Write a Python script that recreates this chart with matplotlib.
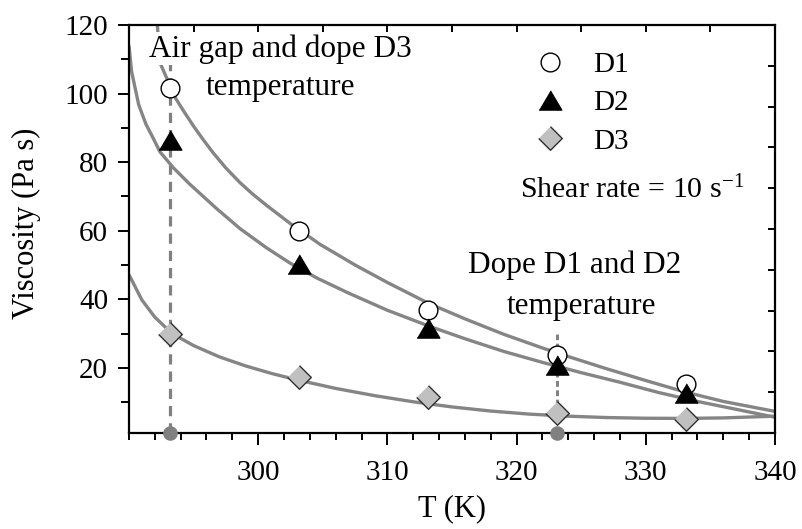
import numpy as np
import matplotlib
matplotlib.use('Agg')
import matplotlib.pyplot as plt
from matplotlib.ticker import FixedLocator, MultipleLocator

plt.rcParams['font.family'] = ['Liberation Serif', 'DejaVu Serif']
plt.rcParams['mathtext.fontset'] = 'custom'
plt.rcParams['mathtext.rm'] = 'Liberation Serif'
plt.rcParams['mathtext.it'] = 'Liberation Serif:italic'

# ---- data ----
temperature = [293.15, 303.15, 313.15, 323.15, 333.15]
d1 = [101.7, 59.8, 36.9, 23.8, 15.3]
d2 = [86.4, 50.3, 31.6, 20.7, 12.6]
d3 = [29.9, 17.2, 11.4, 6.95, 5.0]

# fitted curves as drawn in the reference
fit_d1_T = [292.2, 292.4, 293.6, 294.3, 295.0, 295.7, 296.5, 297.5, 298.6, 299.6,
            300.65, 302.45, 304.8, 307.5, 310.0, 313.2, 316.0, 319.0, 322.0, 324.0,
            327.0, 330.0, 333.0, 336.0, 340.0]
fit_d1_y = [120, 109, 98.7, 94.5, 90.5, 86.8, 82.8, 78.3, 74.0, 70.6,
            67.4, 62.2, 56.0, 50.0, 44.9, 38.8, 34.3, 29.8, 25.8, 23.3,
            19.7, 16.3, 13.0, 10.2, 7.3]
fit_d2_T = [290.0, 290.2, 290.75, 291.3, 291.9, 292.4, 293.45, 294.7, 296.8, 298.6,
            300.65, 302.45, 304.6, 307.0, 310.0, 313.2, 316.0, 319.0, 322.0, 325.0,
            328.0, 331.0, 334.0, 337.0, 340.0]
fit_d2_y = [114, 106.5, 96.8, 91.2, 86.8, 83.0, 78.3, 73.6, 66.4, 60.6,
            55.0, 50.6, 46.1, 41.8, 36.8, 32.2, 28.5, 24.8, 21.6, 18.6,
            15.8, 12.8, 10.2, 7.9, 5.6]
fit_d3_T = [290, 291, 292, 293, 294, 295, 297, 299, 301, 303, 306, 309, 312, 315,
            318, 321, 324, 327, 330, 333, 336, 340]
fit_d3_y = [47.2, 39.8, 34.8, 31.2, 28.6, 26.5, 23.2, 20.6, 18.4, 16.5, 14.0, 11.9,
            10.1, 8.6, 7.4, 6.5, 5.9, 5.5, 5.3, 5.25, 5.4, 5.9]

ref_T = [293.15, 323.15]
ref_top = [110, 30]

x_major = [300, 310, 320, 330, 340]
y_major = [20, 40, 60, 80, 100, 120]
xlim = (290, 340)
ylim = (1, 120)

labels = ['D1', 'D2', 'D3']

# ---- figure ----
fig = plt.figure(figsize=(8.02, 5.29), dpi=100)
ax = fig.add_axes([0.1608, 0.1815, 0.8055, 0.7712])

curve_col = '#858585'
for tt, yy in ((fit_d1_T, fit_d1_y), (fit_d2_T, fit_d2_y), (fit_d3_T, fit_d3_y)):
    ax.plot(tt, yy, color=curve_col, lw=2.4, zorder=2, solid_capstyle='butt',
            solid_joinstyle='round')

# vertical reference lines
ax.plot([ref_T[0], ref_T[0]], [ylim[0], ref_top[0]], color='#808080', lw=2.3,
        linestyle=(0, (3.2, 2.2)), zorder=1.5)
ax.plot([ref_T[1], ref_T[1]], [ylim[0], ref_top[1]], color='#808080', lw=2.1,
        linestyle=(0, (2.0, 1.2)), zorder=1.5)
ax.plot(ref_T, [ylim[0], ylim[0]], 'o', color='#808080', ms=10.5, mew=0,
        clip_on=False, zorder=6)

tri = [(-1, -0.845), (1, -0.845), (0, 0.845)]
dia = [(0, 1), (1, 0), (0, -1), (-1, 0)]
h1, = ax.plot(temperature, d1, linestyle='none', marker='o', ms=13.5, mfc='white',
              mec='black', mew=1.0, zorder=5, label=labels[0])
h2, = ax.plot(temperature, d2, linestyle='none', marker=tri, ms=16.5, mfc='black',
              mec='black', mew=0.8, zorder=5, label=labels[1])
h3, = ax.plot(temperature, d3, linestyle='none', marker=dia, ms=17, mfc='#c0c0c0',
              mec='#303030', mew=1.0, zorder=5, label=labels[2])

ax.set_xlim(*xlim)
ax.set_ylim(*ylim)
ax.xaxis.set_major_locator(FixedLocator(x_major))
ax.xaxis.set_minor_locator(MultipleLocator(2))
ax.yaxis.set_major_locator(FixedLocator(y_major))
ax.yaxis.set_minor_locator(MultipleLocator(10))
ax.tick_params(axis='x', which='major', direction='out', length=8.5, width=1.4,
               labelsize=21, pad=11, top=False)
ax.tick_params(axis='x', which='minor', direction='out', length=5, width=1.4, top=False)
ax.tick_params(axis='y', which='major', direction='out', length=8, width=1.4,
               labelsize=21, pad=7, right=False)
ax.tick_params(axis='y', which='minor', direction='out', length=5.5, width=1.4, right=False)
for s in ax.spines.values():
    s.set_linewidth(1.6)

ax.set_xlabel('T (K)', fontsize=22)
ax.set_ylabel('Viscosity (Pa s)', fontsize=22)
ax.xaxis.set_label_coords(0.5, -0.15)
ax.yaxis.set_label_coords(-0.1355, 0.513)

# secondary (unlabelled) ticks on top and right
axr = ax.twinx()
axr.set_ylim(*ylim)
axr.yaxis.set_major_locator(FixedLocator(np.linspace(ylim[0], ylim[1], 11)[1:-1]))
axr.tick_params(axis='y', direction='in', length=5, width=1.4, labelright=False)
axt = ax.twiny()
axt.set_xlim(*xlim)
axt.xaxis.set_major_locator(FixedLocator(np.arange(295, 340, 5)))
axt.tick_params(axis='x', direction='in', length=5, width=1.4, labeltop=False)
for a in (axr, axt):
    for s in a.spines.values():
        s.set_visible(False)

# annotations
ax.text(301.7, 110.8, 'Air gap and dope D3', fontsize=22.5, ha='center', va='baseline',
        zorder=3, bbox=dict(boxstyle='square,pad=0.05', fc='white', ec='none'))
ax.text(301.75, 99.7, 'temperature', fontsize=22.5, ha='center', va='baseline', zorder=3)
ax.text(324.5, 47.7, 'Dope D1 and D2', fontsize=22.5, ha='center', va='baseline', zorder=3)
ax.text(325.0, 35.8, 'temperature', fontsize=22.5, ha='center', va='baseline', zorder=3)
ax.text(337.6, 69.6, 'Shear rate = 10 s$^{\\mathregular{-1}}$', fontsize=21.5,
        ha='right', va='baseline', zorder=3)

leg = ax.legend(handles=[h1, h2, h3], loc='upper left', bbox_to_anchor=(0.629, 0.934),
                frameon=False, fontsize=21, borderpad=0, handlelength=1.0,
                handletextpad=0.97, labelspacing=0.4, numpoints=1, borderaxespad=0)
leg.set_zorder(7)

fig.savefig('out.png', dpi=100)
